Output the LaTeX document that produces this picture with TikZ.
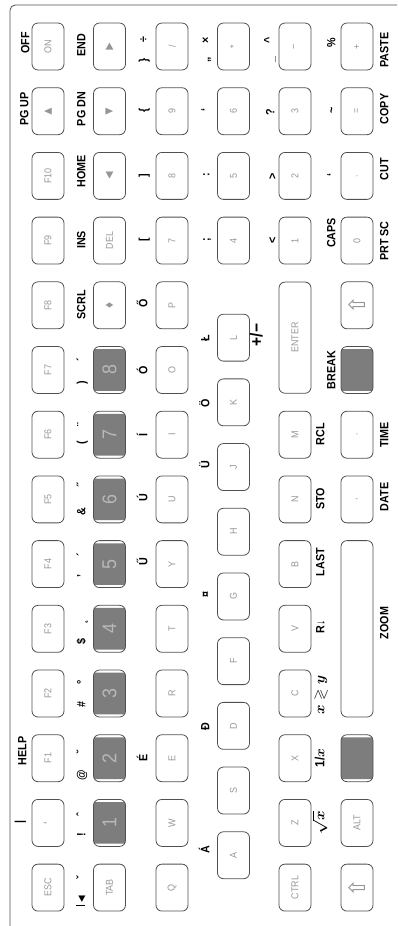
\documentclass[tikz,border=0pt]{standalone}
\usepackage{amsmath,amssymb}
\usepackage{fontspec}
\setmainfont{Liberation Sans}[FakeStretch=0.9]
\newfontfamily\symfont{DejaVu Sans}
\usetikzlibrary{calc}
\definecolor{keyline}{RGB}{80,80,80}
\definecolor{legend}{RGB}{150,150,150}
\definecolor{darkfill}{RGB}{125,125,125}

\begin{document}
\begin{tikzpicture}[x=0.0265cm,y=-0.0265cm,
  key/.style={draw=keyline,line width=.6pt,rounded corners=4.5pt,rotate=90,
    minimum width=1.245cm,minimum height=.848cm,inner sep=0pt,
    text=legend,font=\fontsize{7.5}{7.5}\selectfont},
  enterkey/.style={key,minimum width=2.947cm},
  spacekey/.style={key,minimum width=4.675cm},
  darkkey/.style={key,fill=white,text=white!45!darkfill,
    font=\fontsize{15}{15}\selectfont,
    path picture={\fill[darkfill,rounded corners=3pt]
      ($(path picture bounding box.south west)+(2pt,2pt)$) rectangle
      ($(path picture bounding box.north east)-(2pt,2pt)$);}},
  lab/.style={rotate=90,inner sep=0pt,text height=6.5pt,text depth=0pt,
    font=\fontsize{9}{9}\selectfont\bfseries},
  sym/.style={font=\fontsize{17}{17}\selectfont\symfont}]
\useasboundingbox (0,0) rectangle (397,926);
\draw[keyline,line width=.6pt,rounded corners=4pt] (10,926) -- (10,5) -- (397,5);

% first row (OFF ... ESC)
\node[key] (on) at (48,46.5) {ON};
\node[key,font=\fontsize{10}{10}\selectfont] (up) at (48,111.2) {▲};
\node[key] (f10) at (48,175.9) {F10};
\node[key] (f9) at (48,240.6) {F9};
\node[key] (f8) at (48,305.3) {F8};
\node[key] (f7) at (48,370) {F7};
\node[key] (f6) at (48,434.7) {F6};
\node[key] (f5) at (48,499.4) {F5};
\node[key] (f4) at (48,564.1) {F4};
\node[key] (f3) at (48,628.8) {F3};
\node[key] (f2) at (48,693.5) {F2};
\node[key] (f1) at (48,758.2) {F1};
\node[key,font=\fontsize{10}{10}\selectfont] (grave) at (48,822.9) {`};
\node[key] (esc) at (48,887.6) {ESC};

\node[lab] (off) at (25,43) {OFF};
\node[lab] (pgup) at (24,109) {PG UP};
\node[lab] (help) at (22,751) {HELP};
\node[lab] (pipe) at (19,822) {\textbar};

% second row (arrows, digits, TAB)
\node[key,font=\fontsize{10}{10}\selectfont] (right) at (109.5,46.5) {►};
\node[key,font=\fontsize{10}{10}\selectfont] (down) at (109.5,111.2) {▼};
\node[key,font=\fontsize{10}{10}\selectfont] (left) at (109.5,175.9) {◄};
\node[key] (del) at (109.5,240.6) {DEL};
\node[key,font=\fontsize{10}{10}\selectfont] (scrl) at (109.5,305.3) {♦};
\node[darkkey] (d8) at (109.5,370) {8};
\node[darkkey] (d7) at (109.5,434.7) {7};
\node[darkkey] (d6) at (109.5,499.4) {6};
\node[darkkey] (d5) at (109.5,564.1) {5};
\node[darkkey] (d4) at (109.5,628.8) {4};
\node[darkkey] (d3) at (109.5,693.5) {3};
\node[darkkey] (d2) at (109.5,758.2) {2};
\node[darkkey] (d1) at (109.5,822.9) {1};
\node[key] (tab) at (109.5,887.6) {TAB};

\node[lab] (end) at (81,45) {END};
\node[lab] (pgdn) at (81,109) {PG DN};
\node[lab] (home) at (81,171) {HOME};
\node[lab] (ins) at (81,240) {INS};
\node[lab] (scrllab) at (81,305) {SCRL};
\node[lab] (rpar) at (81,383) {)};
\node[lab] (acute) at (81,360) {´};
\node[lab] (lpar) at (81,443) {(};
\node[lab] (uml) at (81,425) {¨};
\node[lab] (amp) at (81,512) {\&};
\node[lab] (dblac) at (81,485) {˝};
\node[lab] (quote) at (81,576) {'};
\node[lab] (acute2) at (81,555) {´};
\node[lab] (dollar) at (81,642) {\$};
\node[lab] (ogon) at (81,622) {˛};
\node[lab] (hash) at (81,705) {\#};
\node[lab] (ring) at (81,682) {°};
\node[lab] (at) at (81,775) {@};
\node[lab] (breve) at (81,752) {˘};
\node[lab] (excl) at (81,835) {!};
\node[lab] (circ) at (81,815) {ˆ};
\node[lab] (btab) at (81,900) {\rule{1.2pt}{7pt}\hspace{.3pt}◄};
\node[lab] (caron) at (81,878) {ˇ};

% third row (Q ... P, 7 8 9 /)
\node[key] (slash) at (172,46.5) {/};
\node[key] (n9) at (172,111.2) {9};
\node[key] (n8) at (172,175.9) {8};
\node[key] (n7) at (172,240.6) {7};
\node[key] (p) at (172,305.3) {P};
\node[key] (o) at (172,370) {O};
\node[key] (i) at (172,434.7) {I};
\node[key] (u) at (172,499.4) {U};
\node[key] (y) at (172,564.1) {Y};
\node[key] (t) at (172,628.8) {T};
\node[key] (r) at (172,693.5) {R};
\node[key] (e) at (172,758.2) {E};
\node[key] (w) at (172,822.9) {W};
\node[key] (q) at (172,887.6) {Q};

\node[lab] (div) at (143,40) {÷};
\node[lab] (rbrace) at (143,60) {\}};
\node[lab] (lbrace) at (143,110) {\{};
\node[lab] (rbrack) at (143,176) {]};
\node[lab] (lbrack) at (143,240) {[};
\node[lab] (odbl) at (143,303) {Ő};
\node[lab] (oac) at (143,370) {Ó};
\node[lab] (iac) at (143,435) {Í};
\node[lab] (uac) at (143,498) {Ú};
\node[lab] (udbl) at (143,562) {Ű};
\node[lab] (eac) at (143,758) {É};

% fourth row (A ... L, 4 5 6 *)
\node[key] (ast) at (233.5,46.5) {*};
\node[key] (n6) at (233.5,111.2) {6};
\node[key] (n5) at (233.5,175.9) {5};
\node[key] (n4) at (233.5,240.6) {4};
\node[key] (l) at (233.5,337.65) {L};
\node[key] (k) at (233.5,402.35) {K};
\node[key] (j) at (233.5,467.05) {J};
\node[key] (h) at (233.5,531.75) {H};
\node[key] (g) at (233.5,596.45) {G};
\node[key] (f) at (233.5,661.15) {F};
\node[key] (d) at (233.5,725.85) {D};
\node[key] (s) at (233.5,790.55) {S};
\node[key] (a) at (233.5,855.25) {A};

\node[lab] (times) at (205,40) {×};
\node[lab] (lowq) at (205,60) {„};
\node[lab] (lsq) at (205,110) {‘};
\node[lab] (colon) at (205,175) {:};
\node[lab] (semi) at (205,240) {;};
\node[lab] (lstroke) at (205,338) {Ł};
\node[lab] (ouml) at (205,403) {Ö};
\node[lab] (uuml) at (205,465) {Ü};
\node[lab] (curr) at (205,595) {¤};
\node[lab] (dstroke) at (205,727) {Đ};
\node[lab] (aac) at (205,850) {Á};
\node[lab,font=\fontsize{13}{13}\selectfont\bfseries] (chs) at (258,335) {+/−};

% fifth row (CTRL Z ... M, ENTER, 1 2 3 -)
\node[key] (minus) at (295,46.5) {−};
\node[key] (n3) at (295,111.2) {3};
\node[key] (n2) at (295,175.9) {2};
\node[key] (n1) at (295,240.6) {1};
\node[enterkey] (enter) at (295,337.65) {ENTER};
\node[key] (m) at (295,434.7) {M};
\node[key] (n) at (295,499.4) {N};
\node[key] (b) at (295,564.1) {B};
\node[key] (v) at (295,628.8) {V};
\node[key] (c) at (295,693.5) {C};
\node[key] (x) at (295,758.2) {X};
\node[key] (z) at (295,822.9) {Z};
\node[key] (ctrl) at (295,887.6) {CTRL};

\node[lab] (hat) at (268,40) {\^{}};
\node[lab] (under) at (270,60) {\_};
\node[lab] (quest) at (270,112) {?};
\node[lab] (gt) at (272,176) {>};
\node[lab] (lt) at (272,240) {<};
\node[lab] (rcl) at (320,434) {RCL};
\node[lab] (sto) at (320,499) {STO};
\node[lab] (last) at (320,562) {LAST};
\node[lab] (rdn) at (320,627) {R↓};
\node[lab,font=\fontsize{11}{11}\selectfont\boldmath] (xy) at (320,695) {$x\gtrless y$};
\node[lab,font=\fontsize{10}{10}\selectfont\bfseries\boldmath] (inv) at (320,758) {1/$x$};
\node[lab,font=\fontsize{11}{11}\selectfont\boldmath] (sqrt) at (320,823) {$\sqrt{x}$};

% sixth row (SHIFT, ALT, space, BREAK, 0 . = +)
\node[key] (plus) at (357,46.5) {+};
\node[key] (equal) at (357,111.2) {=};
\node[key] (point) at (357,175.9) {.};
\node[key] (n0) at (357,240.6) {0};
\node[key,sym] (rshift) at (357,305.3) {⇧};
\node[darkkey] (brk) at (357,370) {};
\node[key] (dot) at (357,434.7) {.};
\node[key] (comma) at (357,499.4) {,};
\node[spacekey] (space) at (357,628.8) {};
\node[darkkey] (menu) at (357,758.2) {};
\node[key] (alt) at (357,822.9) {ALT};
\node[key,sym] (lshift) at (357,887.6) {⇧};

\node[lab] (pct) at (331,43) {\%};
\node[lab] (tilde) at (331,110) {\char`\~};
\node[lab] (lsq2) at (331,175) {‘};
\node[lab] (caps) at (331,233) {CAPS};
\node[lab] (break) at (331,370) {BREAK};
\node[lab] (paste) at (384,50) {PASTE};
\node[lab] (copy) at (384,109) {COPY};
\node[lab] (cut) at (384,169) {CUT};
\node[lab] (prtsc) at (384,241) {PRT SC};
\node[lab] (time) at (384,435) {TIME};
\node[lab] (date) at (384,497) {DATE};
\node[lab] (zoom) at (384,623) {ZOOM};
\end{tikzpicture}
\end{document}
